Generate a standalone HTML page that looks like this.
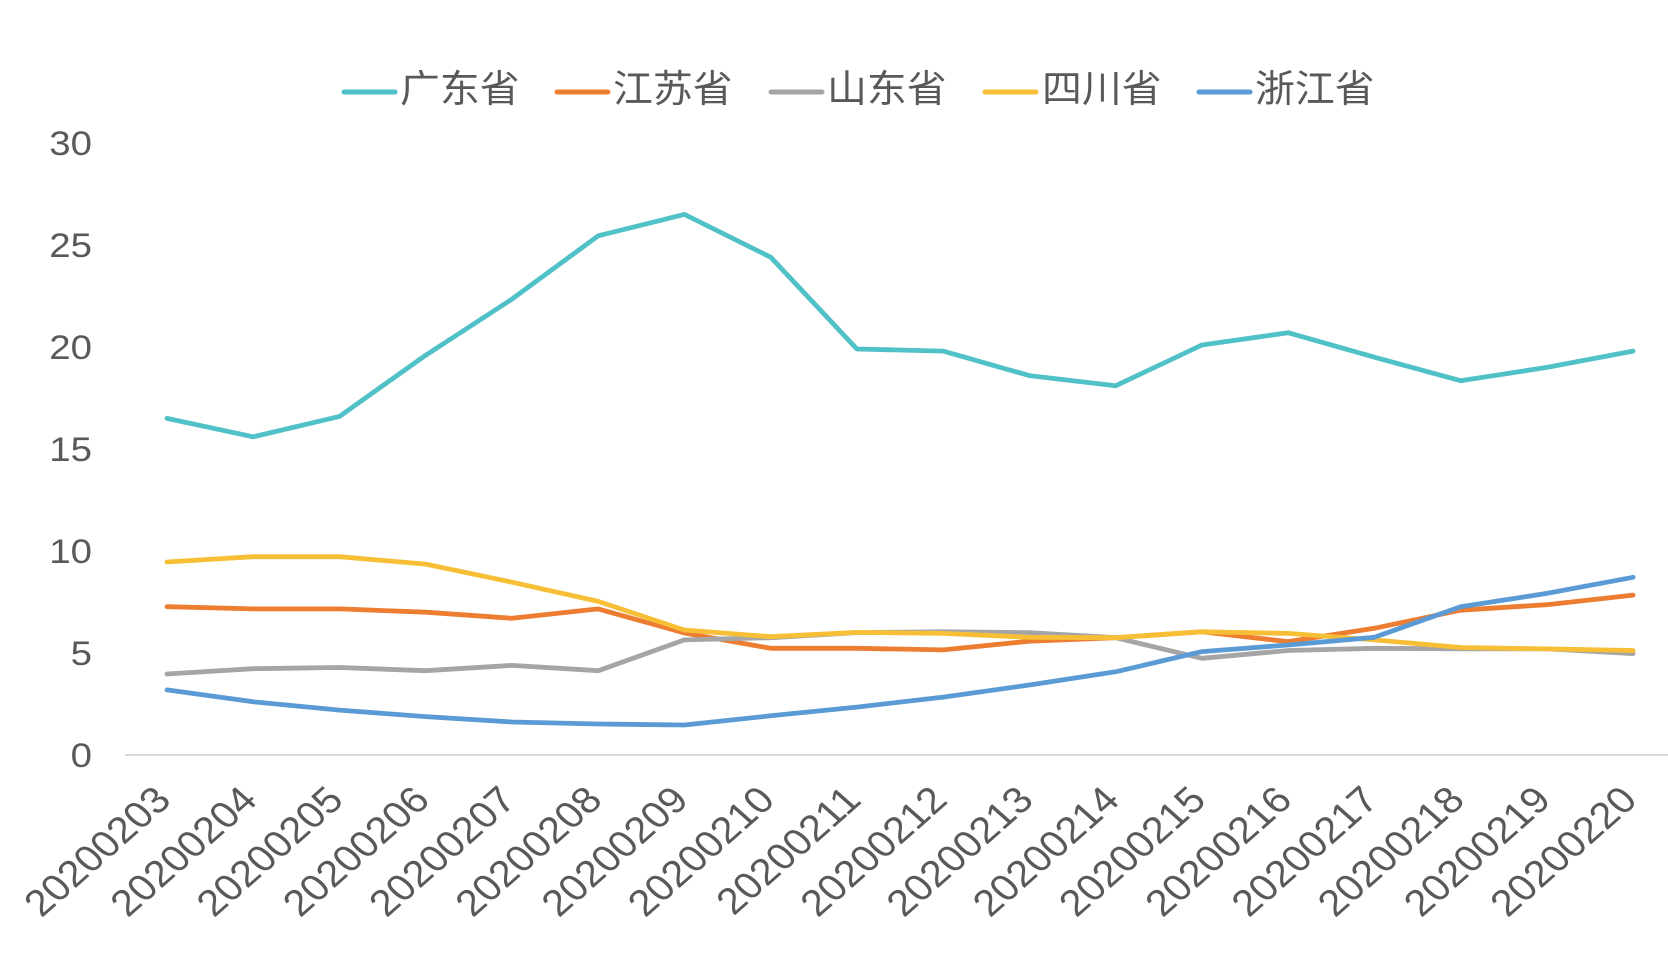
<!DOCTYPE html>
<html>
<head>
<meta charset="utf-8">
<style>
  html,body{margin:0;padding:0;background:#fff;}
  svg{display:block;}
  .yl{font-family:"Liberation Sans","Noto Sans CJK SC",sans-serif;font-size:34px;fill:#595959;}
  .xl{font-family:"Liberation Sans","Noto Sans CJK SC",sans-serif;font-size:37px;fill:#595959;}
  .lg{font-family:"Liberation Sans","Noto Sans CJK SC",sans-serif;font-size:38px;fill:#595959;}
  .s{fill:none;stroke-width:4.8;stroke-linejoin:round;stroke-linecap:round;}
</style>
</head>
<body>
<svg width="1668" height="962" viewBox="0 0 1668 962" xmlns="http://www.w3.org/2000/svg">
  <rect x="0" y="0" width="1668" height="962" fill="#fff"/>

  <!-- Legend -->
  <line x1="344" y1="92" x2="395" y2="92" stroke="#4FC1C7" stroke-width="5" stroke-linecap="round"/>
  <text class="lg" transform="translate(400,102) scale(1.05,1)">广东省</text>
  <line x1="557" y1="92" x2="608" y2="92" stroke="#ED7D31" stroke-width="5" stroke-linecap="round"/>
  <text class="lg" transform="translate(613,102) scale(1.05,1)">江苏省</text>
  <line x1="771" y1="92" x2="822" y2="92" stroke="#A5A5A5" stroke-width="5" stroke-linecap="round"/>
  <text class="lg" transform="translate(827,102) scale(1.05,1)">山东省</text>
  <line x1="985" y1="92" x2="1036" y2="92" stroke="#F7BF36" stroke-width="5" stroke-linecap="round"/>
  <text class="lg" transform="translate(1042,102) scale(1.05,1)">四川省</text>
  <line x1="1199" y1="92" x2="1250" y2="92" stroke="#5B9BD5" stroke-width="5" stroke-linecap="round"/>
  <text class="lg" transform="translate(1255,102) scale(1.05,1)">浙江省</text>

  <!-- Y labels -->
  <text class="yl" text-anchor="end" transform="translate(92,155) scale(1.13,1)">30</text>
  <text class="yl" text-anchor="end" transform="translate(92,257) scale(1.13,1)">25</text>
  <text class="yl" text-anchor="end" transform="translate(92,359) scale(1.13,1)">20</text>
  <text class="yl" text-anchor="end" transform="translate(92,461) scale(1.13,1)">15</text>
  <text class="yl" text-anchor="end" transform="translate(92,563) scale(1.13,1)">10</text>
  <text class="yl" text-anchor="end" transform="translate(92,665) scale(1.13,1)">5</text>
  <text class="yl" text-anchor="end" transform="translate(92,767) scale(1.13,1)">0</text>

  <!-- X axis -->
  <line x1="125" y1="755" x2="1668" y2="755" stroke="#D9D9D9" stroke-width="2"/>

  <!-- X labels -->
  <g>
    <text class="xl" text-anchor="end" transform="translate(173,802) scale(1.13,1) rotate(-45)">20200203</text>
    <text class="xl" text-anchor="end" transform="translate(259.2,802) scale(1.13,1) rotate(-45)">20200204</text>
    <text class="xl" text-anchor="end" transform="translate(345.5,802) scale(1.13,1) rotate(-45)">20200205</text>
    <text class="xl" text-anchor="end" transform="translate(431.7,802) scale(1.13,1) rotate(-45)">20200206</text>
    <text class="xl" text-anchor="end" transform="translate(518,802) scale(1.13,1) rotate(-45)">20200207</text>
    <text class="xl" text-anchor="end" transform="translate(604.2,802) scale(1.13,1) rotate(-45)">20200208</text>
    <text class="xl" text-anchor="end" transform="translate(690.4,802) scale(1.13,1) rotate(-45)">20200209</text>
    <text class="xl" text-anchor="end" transform="translate(776.7,802) scale(1.13,1) rotate(-45)">20200210</text>
    <text class="xl" text-anchor="end" transform="translate(862.9,802) scale(1.13,1) rotate(-45)">20200211</text>
    <text class="xl" text-anchor="end" transform="translate(949.2,802) scale(1.13,1) rotate(-45)">20200212</text>
    <text class="xl" text-anchor="end" transform="translate(1035.4,802) scale(1.13,1) rotate(-45)">20200213</text>
    <text class="xl" text-anchor="end" transform="translate(1121.6,802) scale(1.13,1) rotate(-45)">20200214</text>
    <text class="xl" text-anchor="end" transform="translate(1207.9,802) scale(1.13,1) rotate(-45)">20200215</text>
    <text class="xl" text-anchor="end" transform="translate(1294.1,802) scale(1.13,1) rotate(-45)">20200216</text>
    <text class="xl" text-anchor="end" transform="translate(1380.4,802) scale(1.13,1) rotate(-45)">20200217</text>
    <text class="xl" text-anchor="end" transform="translate(1466.6,802) scale(1.13,1) rotate(-45)">20200218</text>
    <text class="xl" text-anchor="end" transform="translate(1552.8,802) scale(1.13,1) rotate(-45)">20200219</text>
    <text class="xl" text-anchor="end" transform="translate(1639.1,802) scale(1.13,1) rotate(-45)">20200220</text>
  </g>

  <!-- Series -->
  <polyline class="s" stroke="#4FC1C7" points="167,418.4 253.2,436.8 339.5,416.4 425.7,355.2 512,299.1 598.2,235.8 684.4,214.4 770.7,257.2 856.9,349 943.2,351.1 1029.4,375.6 1115.6,385.8 1201.9,345 1288.1,332.7 1374.4,357.2 1460.6,380.7 1546.8,367.4 1633.1,351.1"/>
  <polyline class="s" stroke="#ED7D31" points="167,606.7 253.2,608.9 339.5,608.9 425.7,612.2 512,618.3 598.2,608.9 684.4,633 770.7,648.3 856.9,648.3 943.2,649.9 1029.4,641.2 1115.6,637.7 1201.9,631.8 1288.1,641.6 1374.4,628.3 1460.6,610.2 1546.8,604.7 1633.1,595.1"/>
  <polyline class="s" stroke="#A5A5A5" points="167,674 253.2,668.7 339.5,667.5 425.7,670.7 512,665.4 598.2,670.7 684.4,639.9 770.7,637.7 856.9,632.6 943.2,631.8 1029.4,632.6 1115.6,637.7 1201.9,658.3 1288.1,650.5 1374.4,648.3 1460.6,648.9 1546.8,648.9 1633.1,653.6"/>
  <polyline class="s" stroke="#F7BF36" points="167,562 253.2,556.7 339.5,556.7 425.7,564.1 512,582.2 598.2,601.4 684.4,630 770.7,636.7 856.9,632.4 943.2,633.4 1029.4,637.3 1115.6,637.7 1201.9,631.8 1288.1,633.4 1374.4,639.9 1460.6,647.5 1546.8,648.9 1633.1,650.5"/>
  <polyline class="s" stroke="#5B9BD5" points="167,689.9 253.2,701.8 339.5,710.1 425.7,716.6 512,722 598.2,724 684.4,725 770.7,715.8 856.9,707.1 943.2,697.1 1029.4,685 1115.6,671.8 1201.9,651.6 1288.1,645 1374.4,637.3 1460.6,606.7 1546.8,593.4 1633.1,577.3"/>
</svg>
</body>
</html>
